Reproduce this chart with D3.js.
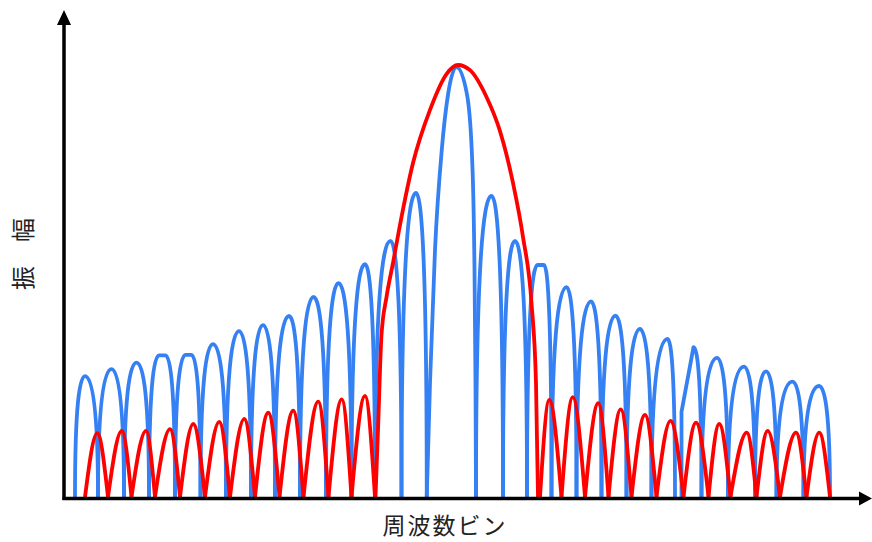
<!DOCTYPE html>
<html>
<head>
<meta charset="utf-8">
<script src="https://cdn.jsdelivr.net/npm/d3@7"></script>
<style>
  body { margin: 0; background: #fff; }
  #chartbox { width: 872px; height: 542px; }
</style>
</head>
<body>
<div id="chartbox"></div>
<script>
// blue side lobes: [bin, amplitude] points (zero, peak(s), zero)
var blueLobes = [
  [[0.36,0],[0.76,0.280],[1.28,0]],
  [[1.28,0],[1.82,0.296],[2.32,0]],
  [[2.32,0],[2.82,0.311],[3.32,0]],
  [[3.32,0],[3.72,0.328],[3.98,0.328],[4.36,0]],
  [[4.36,0],[4.78,0.329],[5.02,0.329],[5.38,0]],
  [[5.38,0],[5.88,0.354],[6.40,0]],
  [[6.40,0],[6.92,0.384],[7.40,0]],
  [[7.40,0],[7.88,0.398],[8.36,0]],
  [[8.36,0],[8.92,0.419],[9.36,0]],
  [[9.36,0],[9.90,0.463],[10.40,0]],
  [[10.40,0],[10.90,0.495],[11.42,0]],
  [[11.42,0],[11.96,0.539],[12.36,0]],
  [[12.36,0],[12.98,0.593],[13.42,0]],
  [[13.42,0],[14.00,0.704],[14.43,0]],
  [[16.40,0],[17.02,0.697],[17.48,0]],
  [[17.48,0],[17.96,0.593],[18.44,0]],
  [[18.44,0],[18.86,0.537],[19.12,0.537],[19.42,0]],
  [[19.42,0],[20.02,0.486],[20.42,0]],
  [[20.42,0],[21.00,0.453],[21.42,0]],
  [[21.42,0],[21.98,0.420],[22.42,0]],
  [[22.42,0],[22.96,0.389],[23.42,0]],
  [[23.42,0],[24.06,0.366],[24.36,0]],
  [[24.62,0],[24.62,0.197],[25.10,0.347],[25.42,0]],
  [[25.42,0],[26.04,0.322],[26.48,0]],
  [[26.48,0],[27.12,0.302],[27.56,0]],
  [[27.56,0],[28.00,0.291],[28.42,0]],
  [[28.42,0],[29.06,0.267],[29.50,0]],
  [[29.50,0],[30.12,0.257],[30.56,0]]
];
var blueMainLobe = [[14.43,0],[14.56,0.264],[14.76,0.572],[15.03,0.803],[15.29,0.935],[15.62,0.995],
                    [16.03,0.935],[16.23,0.803],[16.33,0.572],[16.38,0.264],[16.40,0]];

var redZerosLeft = [0.76,1.68,2.62,3.56,4.56,5.56,6.56,7.56,8.54,9.50,10.50,11.42,12.36];
var redPeaksLeft = [[1.25,0.148],[2.23,0.153],[3.20,0.153],[4.16,0.157],[5.09,0.169],[6.13,0.174],
                    [7.13,0.181],[8.09,0.195],[9.09,0.200],[10.09,0.221],[11.03,0.226],[11.96,0.234]];
var redZerosRight = [18.96,19.82,20.76,21.70,22.62,23.62,24.70,25.70,26.58,27.62,28.56,29.62,30.56];
var redPeaksRight = [[19.33,0.225],[20.27,0.231],[21.29,0.217],[22.19,0.203],[23.16,0.190],[24.18,0.176],
                     [25.20,0.172],[26.13,0.169],[27.23,0.149],[28.07,0.153],[29.20,0.149],[30.13,0.149]];
var redMainLobe = [[12.38,0],[12.48,0.155],[12.62,0.375],[12.82,0.463],[13.08,0.542],[13.36,0.630],
                   [13.88,0.773],[14.56,0.896],[15.22,0.979],[15.68,1.0],[16.16,0.988],[16.82,0.926],
                   [17.36,0.847],[17.88,0.727],[18.28,0.602],[18.62,0.449],[18.80,0.264],[18.88,0]];

var xLabel = "周波数ビン";
var yLabel = "振　幅";

const width = 872, height = 542;
var svg = d3.select('#chartbox').append('svg')
  .attr('width', width).attr('height', height)
  .attr('viewBox', [0, 0, width, height]);

var x = d3.scaleLinear().domain([0, 32]).range([66, 866]);
var y = d3.scaleLinear().domain([0, 1]).range([497, 65]);

var line = d3.line().x(d => x(d[0])).y(d => y(d[1])).curve(d3.curveMonotoneX);

// blue lobes: vertical at the zeros, flat at the top (looks like a dB plot)
function arch(pts) {
  var p = pts.map(d => [x(d[0]), y(d[1])]);
  var s = 'M' + p[0][0] + ',' + p[0][1];
  for (var i = 1; i < p.length; i++) {
    var P = p[i - 1], Q = p[i];
    if (pts[i - 1][1] === 0) {
      s += 'C' + P[0] + ',' + (P[1] + (Q[1] - P[1]) * 0.75) + ' ' +
           (Q[0] - (Q[0] - P[0]) * 0.55) + ',' + Q[1] + ' ' + Q[0] + ',' + Q[1];
    } else if (pts[i][1] === 0) {
      s += 'C' + (P[0] + (Q[0] - P[0]) * 0.55) + ',' + P[1] + ' ' +
           Q[0] + ',' + (Q[1] - (Q[1] - P[1]) * 0.75) + ' ' + Q[0] + ',' + Q[1];
    } else {
      s += 'L' + Q[0] + ',' + Q[1];
    }
  }
  return s;
}

function sideLobes(zeros, peaks) {
  return peaks.map((p, i) => [[zeros[i], 0], p, [zeros[i + 1], 0]]);
}
var redLobes = sideLobes(redZerosLeft, redPeaksLeft)
  .concat([redMainLobe])
  .concat(sideLobes(redZerosRight, redPeaksRight));

var blue = '#3580f2', red = '#ff0000';
var g = svg.append('g').attr('fill', 'none').attr('stroke-width', 3.8).attr('stroke-linejoin', 'round');

g.selectAll('path.blue').data(blueLobes).join('path').attr('class', 'blue')
  .attr('d', arch).attr('stroke', blue);
g.append('path').datum(blueMainLobe).attr('d', line).attr('stroke', blue);

g.selectAll('path.red').data(redLobes).join('path').attr('class', 'red')
  .attr('d', line).attr('stroke', red);

// axes with arrow heads
var ax = 64, ay = 498.5;
svg.append('line').attr('x1', ax).attr('y1', ay + 1.5).attr('x2', ax).attr('y2', 22)
  .attr('stroke', '#000').attr('stroke-width', 3.5);
svg.append('line').attr('x1', ax - 1.5).attr('y1', ay).attr('x2', 862).attr('y2', ay)
  .attr('stroke', '#000').attr('stroke-width', 3.5);
svg.append('path').attr('d', `M${ax - 7},25 L${ax + 7},25 L${ax},10 Z`).attr('fill', '#000');
svg.append('path').attr('d', `M859,${ay - 7} L859,${ay + 7} L872,${ay} Z`).attr('fill', '#000');

svg.append('text').attr('x', 445).attr('y', 534)
  .attr('text-anchor', 'middle')
  .style('font-family', '"Noto Sans CJK JP", sans-serif').style('font-size', '23px')
  .style('letter-spacing', '2px')
  .attr('fill', '#222').text(xLabel);

svg.append('text').attr('transform', 'translate(32,254) rotate(-90)')
  .attr('text-anchor', 'middle')
  .style('font-family', '"Noto Sans CJK JP", sans-serif').style('font-size', '24px')
  .attr('fill', '#222').text(yLabel);
</script>
</body>
</html>
